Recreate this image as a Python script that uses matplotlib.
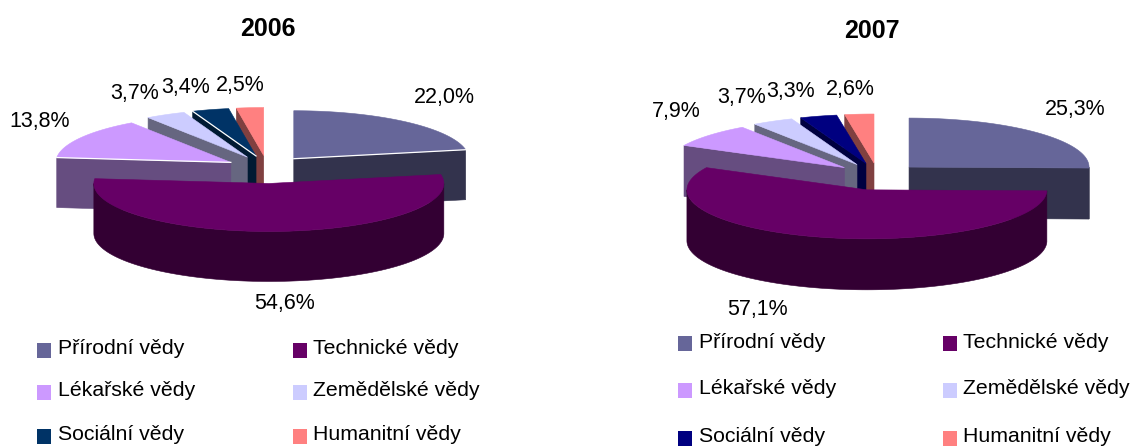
import numpy as np
import matplotlib
matplotlib.use('Agg')
import matplotlib.pyplot as plt
from matplotlib.patches import Polygon, Rectangle

plt.rcParams['font.family'] = ['Liberation Sans', 'DejaVu Sans']

# Data
obory = ['Přírodní vědy', 'Technické vědy', 'Lékařské vědy', 'Zemědělské vědy', 'Sociální vědy', 'Humanitní vědy']
hodnoty_2006 = [22.0, 54.6, 13.8, 3.7, 3.4, 2.5]
hodnoty_2007 = [25.3, 57.1, 7.9, 3.7, 3.3, 2.6]

# Barvy: vrch vysece a jeji bocni stena
barvy_2006 = ['#666699', '#660066', '#CC99FF', '#CCCCFF', '#003366', '#FF8080']
barvy_2007 = ['#666699', '#660066', '#CC99FF', '#CCCCFF', '#000080', '#FF8080']
steny_2006 = ['#33334D', '#330033', '#664D80', '#666680', '#001A33', '#804040']
steny_2007 = ['#33334D', '#330033', '#664D80', '#666680', '#000040', '#804040']

fig = plt.figure(figsize=(11.3, 4.46), dpi=100)
ax = fig.add_axes([0, 0, 1, 1])
ax.set_xlim(0, 1130)
ax.set_ylim(446, 0)
ax.axis('off')


def bod(sx, sy, rx, ry, uhel):
    # uhel ve stupnich po smeru hodinovych rucicek od 12 hodin
    u = np.radians(uhel)
    return np.column_stack([sx + rx * np.sin(u), sy - ry * np.cos(u)])


def kolac(hodnoty, barvy, steny, cx, cy, rx, ry, hloubka, vysun, stlaceni, bila_hrana):
    konce = np.cumsum(hodnoty) / sum(hodnoty) * 360
    zacatky = konce - np.array(hodnoty) / sum(hodnoty) * 360
    # kresli se od zadnich vyseci k prednim
    for poradi, i in enumerate([5, 4, 3, 2, 0, 1]):
        z = poradi + 1
        a0, a1 = zacatky[i], konce[i]
        stred = np.radians((a0 + a1) / 2)
        sx = cx + vysun * np.sin(stred)
        sy = cy - vysun * stlaceni * np.cos(stred)
        apex = np.array([[sx, sy]])
        posun = np.array([0, hloubka])

        # rovna stena smerem k divakovi
        hrana = a1 if (a0 + a1) / 2 < 180 else a0
        if (a0 + a1) / 2 < 90 or (a0 + a1) / 2 > 270:
            roh = bod(sx, sy, rx, ry, hrana)
            pts = np.vstack([apex, roh, roh + posun, apex + posun])
            ax.add_patch(Polygon(pts, fc=steny[i], ec=steny[i], lw=0.4, zorder=z))

        # zaoblena stena, jen predni cast
        z0, z1 = max(a0, 90), min(a1, 270)
        if z1 > z0:
            obl = bod(sx, sy, rx, ry, np.linspace(z0, z1, 120))
            pts = np.vstack([obl, (obl + posun)[::-1]])
            ax.add_patch(Polygon(pts, fc=steny[i], ec=steny[i], lw=0.4, zorder=z))

        # vrch vysece
        obl = bod(sx, sy, rx, ry, np.linspace(a0, a1, 120))
        ax.add_patch(Polygon(np.vstack([apex, obl]), fc=barvy[i], ec=barvy[i], lw=0.4, zorder=z))
        if bila_hrana and i in (0, 2, 4):
            roh = bod(sx, sy, rx, ry, hrana)
            ax.plot([sx, roh[0, 0]], [sy, roh[0, 1]], color='white', lw=0.9, zorder=z)


def popisky(hodnoty, pozice):
    for v, (x, y) in zip(hodnoty, pozice):
        ax.text(x, y, f'{v:.1f}%'.replace('.', ','), fontsize=15.5, ha='center', va='center', color='black', zorder=10)


def legenda(barvy, x_ctverce, x_textu, y_radku):
    for i, nazev in enumerate(obory):
        x = x_ctverce[i % 2]
        y = y_radku[i // 2]
        ax.add_patch(Rectangle((x, y - 7.5), 14, 15, fc=barvy[i], ec='none'))
        ax.text(x_textu[i % 2], y - 1.5, nazev, fontsize=15.3, ha='left', va='center', color='black')


# 2006
kolac(hodnoty_2006, barvy_2006, steny_2006, 267, 169.5, 175, 48, 50, 42, 0.333, True)
popisky(hodnoty_2006, [(444, 97), (285, 303), (40, 122), (135, 93), (186, 87), (240, 85)])
ax.text(268, 29, '2006', fontsize=18, fontweight='bold', ha='center', va='center')
legenda(barvy_2006, [37, 293], [58, 313], [350.5, 392.5, 436.5])

# 2007
kolac(hodnoty_2007, barvy_2007, steny_2007, 877.6, 176.6, 180, 49, 51, 44, 0.31, False)
popisky(hodnoty_2007, [(1075, 109), (757, 309), (676, 112), (742, 97), (791, 92), (850, 89)])
ax.text(872, 31, '2007', fontsize=18, fontweight='bold', ha='center', va='center')
legenda(barvy_2007, [678, 943], [699, 963], [343.5, 390.5, 438.5])

fig.savefig('out.png', dpi=100)
